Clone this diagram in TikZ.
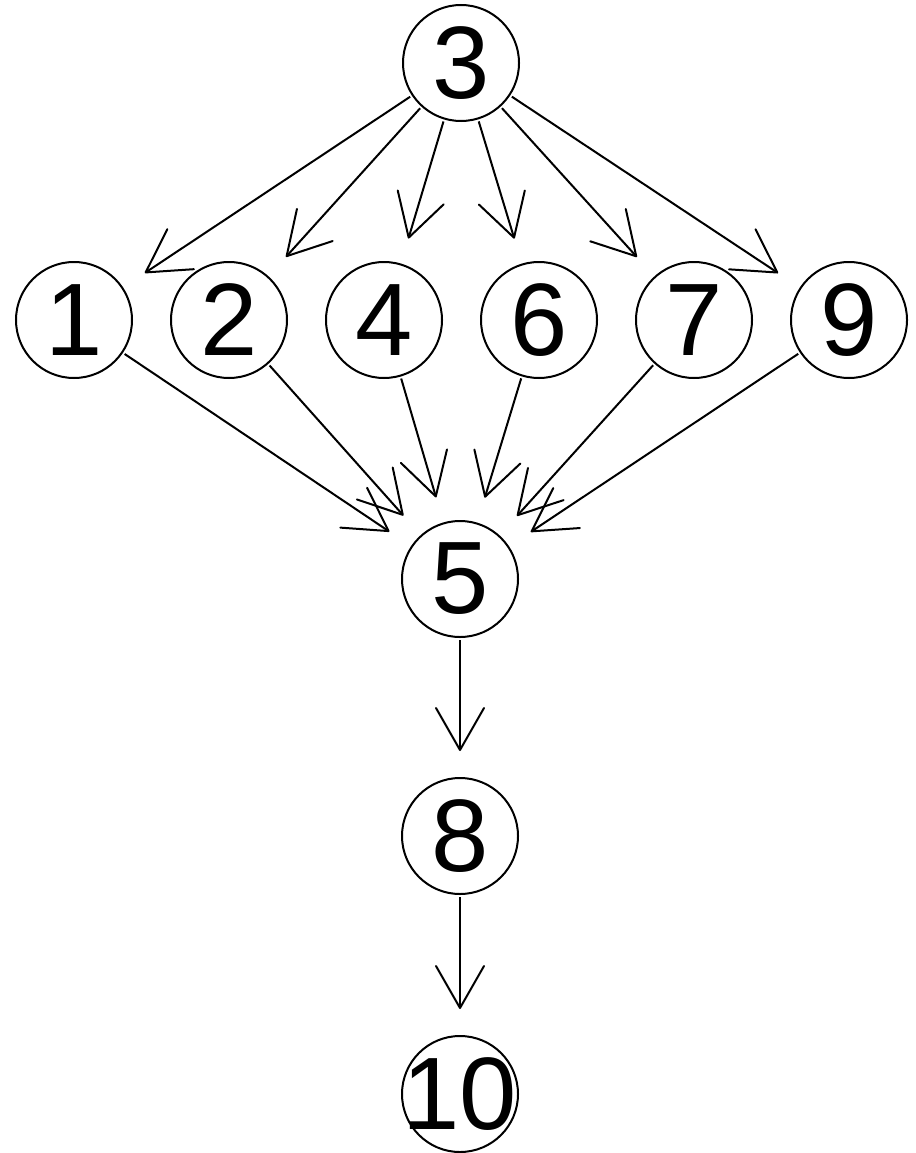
\documentclass[tikz,border=0pt]{standalone}
\usepackage{fontspec}
\setmainfont{Liberation Sans}
\usetikzlibrary{arrows.meta}
\begin{document}
\begin{tikzpicture}[x=1pt,y=-1pt,
  vtx/.style={circle,draw,line width=2pt,minimum size=116pt,inner sep=0pt,outer sep=0pt,
    font=\fontsize{103}{103}\selectfont},
  edge/.style={line width=2pt,shorten <=3pt,shorten >=27pt,
    -{Straight Barb[length=42pt,width=48pt,line width=2pt,round=false]}}]
\useasboundingbox (0,0) rectangle (915,1153);
\node[vtx] (n3) at (461,63) {3};
\node[vtx] (n1) at (74,320) {1};
\node[vtx] (n2) at (229,320) {2};
\node[vtx] (n4) at (384,320) {4};
\node[vtx] (n6) at (539,320) {6};
\node[vtx] (n7) at (694,320) {7};
\node[vtx] (n9) at (849,320) {9};
\node[vtx] (n5) at (460,579) {5};
\node[vtx] (n8) at (460,836) {8};
\node[vtx] (n10) at (460,1094) {\makebox[0pt]{10}};
\foreach \t in {n1,n2,n4,n6,n7,n9}{
  \draw[edge] (n3) -- (\t);
  \draw[edge] (\t) -- (n5);
}
\draw[edge] (n5) -- (n8);
\draw[edge] (n8) -- (n10);
\end{tikzpicture}
\end{document}
